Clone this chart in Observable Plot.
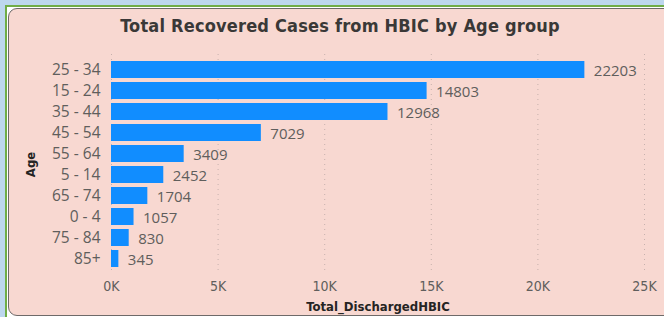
<!DOCTYPE html>
<html>
<head>
<meta charset="utf-8">
<script src="https://cdn.jsdelivr.net/npm/d3@7"></script>
<script src="https://cdn.jsdelivr.net/npm/@observablehq/plot@0.6"></script>
<style>
  html, body { margin: 0; padding: 0; }
  body { width: 664px; height: 317px; background: #bdd7ee; position: relative; overflow: hidden; font-family: "Open Sans", sans-serif; }
  #frame { position: absolute; left: 5px; top: 5px; width: 700px; height: 400px; border-left: 2px solid #70ad47; border-top: 2px solid #70ad47; background: #ffffff; }
  #panel { position: absolute; left: 1px; top: 1px; width: 690px; height: 306px; border: 1.5px solid #6e6a69; border-radius: 9px; background: #f8d8d1; }
  #title { position: absolute; left: 8px; top: 15px; width: 664px; text-align: center; font-family: "DejaVu Sans Condensed", sans-serif; font-weight: bold; font-size: 18px; letter-spacing: 0.2px; color: #3a3837; }
  #chart { position: absolute; left: 0; top: 40px; }
  #chart svg { background: transparent !important; overflow: visible; }
  g[aria-label="x-axis label"] text, g[aria-label="y-axis label"] text { font-weight: bold; fill: #252423; font-family: "DejaVu Sans Condensed", sans-serif; font-size: 13px; }
  g[aria-label="x-axis tick label"] text { font-family: "DejaVu Sans Condensed", sans-serif; }
</style>
</head>
<body>
<div id="frame"><div id="panel"></div></div>
<div id="title">Total Recovered Cases from HBIC by Age group</div>
<div id="chart"></div>
<script>
const ageGroups = ["25 - 34", "15 - 24", "35 - 44", "45 - 54", "55 - 64", "5 - 14", "65 - 74", "0 - 4", "75 - 84", "85+"];
const discharged = [22203, 14803, 12968, 7029, 3409, 2452, 1704, 1057, 830, 345];
const xTicks = [0, 5000, 10000, 15000, 20000, 25000];
const xTickLabels = ["0K", "5K", "10K", "15K", "20K", "25K"];

const data = ageGroups.map((a, i) => ({age: a, value: discharged[i]}));

const chart = Plot.plot({
  width: 664,
  height: 277,
  marginTop: 14,
  marginBottom: 43,
  marginLeft: 111,
  marginRight: 20,
  style: {background: "transparent", fontFamily: "Open Sans, sans-serif", color: "#605e5c"},
  x: {domain: [0, 25000]},
  y: {domain: ageGroups, padding: 0.19},
  marks: [
    Plot.gridX(xTicks, {stroke: "#b9a8a4", strokeOpacity: 0.8, strokeDasharray: "1,4"}),
    Plot.barX(data, {x: "value", y: "age", fill: "#118dff"}),
    Plot.text(data, {x: "value", y: "age", text: d => String(d.value), textAnchor: "start", dx: 9, dy: 1, fill: "#605e5c", fontSize: 15}),
    Plot.axisX({ticks: xTicks, tickFormat: d => xTickLabels[xTicks.indexOf(d)], tickSize: 0, tickPadding: 7, fontSize: 14, fill: "#605e5c", label: "Total_DischargedHBIC", labelAnchor: "center", labelArrow: "none", labelOffset: 36}),
    Plot.axisY({tickSize: 0, tickPadding: 11, fontSize: 15.5, fill: "#605e5c", label: "Age", labelAnchor: "center", labelArrow: "none", labelOffset: 86})
  ]
});
document.getElementById("chart").appendChild(chart);
</script>
</body>
</html>
